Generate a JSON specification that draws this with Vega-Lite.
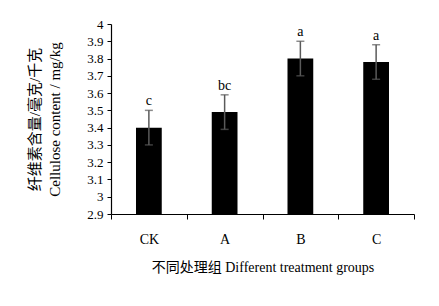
{
  "$schema": "https://vega.github.io/schema/vega-lite/v6.json",
  "width": 303,
  "height": 190,
  "autosize": {"type": "none"},
  "padding": {"left": 111, "top": 24, "right": 25, "bottom": 92},
  "background": "white",
  "config": {
    "view": {"stroke": null},
    "font": "Liberation Serif, Noto Sans CJK SC",
    "axis": {"labelFont": "Liberation Serif, Noto Sans CJK SC", "titleFont": "Liberation Serif, Noto Sans CJK SC", "labelColor": "black", "titleColor": "black", "domainColor": "black", "tickColor": "black", "grid": false, "titleFontWeight": "normal"},
    "axisY": {"labelOverlap": false, "labelFontSize": 13, "tickSize": 4, "labelPadding": 4, "domainWidth": 1.2, "titleFontSize": 15, "titleLineHeight": 20, "titlePadding": 24}
  },
  "data": {
    "values": [
      {"group": "CK", "value": 3.40, "low": 3.30, "high": 3.50, "sig": "c"},
      {"group": "A", "value": 3.49, "low": 3.39, "high": 3.59, "sig": "bc"},
      {"group": "B", "value": 3.80, "low": 3.70, "high": 3.90, "sig": "a"},
      {"group": "C", "value": 3.78, "low": 3.68, "high": 3.88, "sig": "a"}
    ]
  },
  "encoding": {
    "x": {
      "field": "group", "type": "nominal", "sort": null,
      "scale": {"paddingInner": 0, "paddingOuter": 0},
      "axis": {"title": "不同处理组 Different treatment groups", "labelAngle": 0, "labelFontSize": 14, "titleFontSize": 14, "tickBand": "extent", "tickSize": 5, "labelPadding": 13, "titlePadding": 14, "domainWidth": 1.2}
    }
  },
  "layer": [
    {
      "mark": {"type": "bar", "color": "black", "width": {"band": 0.34}},
      "encoding": {
        "y": {"field": "value", "type": "quantitative",
          "scale": {"domain": [2.9, 4], "zero": false, "nice": false},
          "axis": {"title": ["纤维素含量/毫克/千克", "Cellulose content / mg/kg"], "values": [2.9, 3, 3.1, 3.2, 3.3, 3.4, 3.5, 3.6, 3.7, 3.8, 3.9, 4], "format": ".1~f"}
        },
        "y2": {"datum": 2.9}
      }
    },
    {
      "mark": {"type": "rule", "color": "#5a5a5a", "strokeWidth": 1.5},
      "encoding": {"y": {"field": "low", "type": "quantitative", "axis": {"title": ["纤维素含量/毫克/千克", "Cellulose content / mg/kg"], "values": [2.9, 3, 3.1, 3.2, 3.3, 3.4, 3.5, 3.6, 3.7, 3.8, 3.9, 4], "format": ".1~f"}}, "y2": {"field": "high"}}
    },
    {
      "mark": {"type": "tick", "color": "#5a5a5a", "size": 8, "thickness": 1.5, "orient": "horizontal"},
      "encoding": {"y": {"field": "low", "type": "quantitative", "axis": {"title": ["纤维素含量/毫克/千克", "Cellulose content / mg/kg"], "values": [2.9, 3, 3.1, 3.2, 3.3, 3.4, 3.5, 3.6, 3.7, 3.8, 3.9, 4], "format": ".1~f"}}}
    },
    {
      "mark": {"type": "tick", "color": "#5a5a5a", "size": 8, "thickness": 1.5, "orient": "horizontal"},
      "encoding": {"y": {"field": "high", "type": "quantitative", "axis": {"title": ["纤维素含量/毫克/千克", "Cellulose content / mg/kg"], "values": [2.9, 3, 3.1, 3.2, 3.3, 3.4, 3.5, 3.6, 3.7, 3.8, 3.9, 4], "format": ".1~f"}}}
    },
    {
      "mark": {"type": "text", "baseline": "alphabetic", "dy": -5, "fontSize": 14, "color": "black"},
      "encoding": {"y": {"field": "high", "type": "quantitative", "axis": {"title": ["纤维素含量/毫克/千克", "Cellulose content / mg/kg"], "values": [2.9, 3, 3.1, 3.2, 3.3, 3.4, 3.5, 3.6, 3.7, 3.8, 3.9, 4], "format": ".1~f"}}, "text": {"field": "sig"}}
    }
  ]
}
